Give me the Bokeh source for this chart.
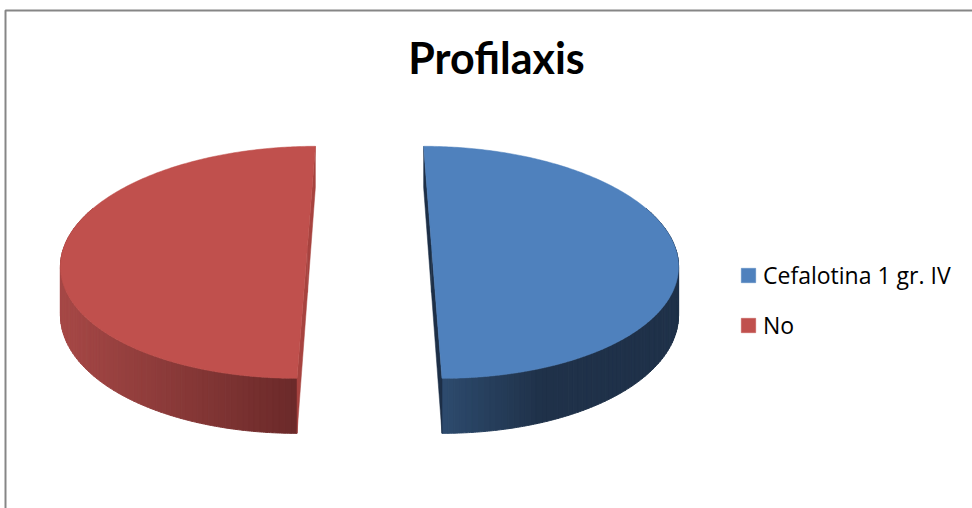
import numpy as np
from bokeh.plotting import figure
from bokeh.models import Range1d, Legend, LegendItem, BoxAnnotation, Label
from bokeh.embed import file_html
from bokeh.resources import INLINE

# ---- data -------------------------------------------------------------
title_text = "Profilaxis"
categories = ["Cefalotina 1 gr. IV", "No"]
values = [50, 50]

# ---- style ------------------------------------------------------------
top_colors = ["#4f81bd", "#c0504d"]
side_light = ["#2d4b6e", "#a64846"]
side_dark = ["#1f3149", "#6a2929"]
cut_colors = ["#1d2f47", "#a7433f"]
side_fade = [100.0, 240.0]          # px over which the side shading darkens

W, H = 972, 508
CX, CY = 369.0, 245.0                # centre of the pie's top face
RX, RY = 243.0, 113.6                # radii of the top face
PERSP = 0.145                        # perspective: near edge drawn larger
DEPTH = 47.0                         # thickness of the pie
EXPLODE = 0.255                      # slice offset, relative to the radius


def project(u, v, h):
    """Disc coords (u right, v far, h down 0..1) -> plot coords."""
    k = 1.0 / (1.0 + PERSP * v)
    return CX + RX * u * k, CY - RY * v * k + DEPTH * h * k


def mix(c1, c2, f):
    a = np.array([int(c1[i:i + 2], 16) for i in (1, 3, 5)], float)
    b = np.array([int(c2[i:i + 2], 16) for i in (1, 3, 5)], float)
    c = a + (b - a) * f
    return "#%02x%02x%02x" % tuple(int(round(x)) for x in c)


p = figure(width=W, height=H, output_backend="svg", toolbar_location=None,
           x_range=Range1d(0, W), y_range=Range1d(H, 0),
           x_axis_type=None, y_axis_type=None, min_border=0)
p.grid.visible = False
p.outline_line_color = None
p.background_fill_color = "white"

# chart-area frame
p.add_layout(BoxAnnotation(left=5, right=W + 50, top=10, bottom=H + 50,
                           fill_alpha=0, line_color="#868686", line_alpha=1.0,
                           line_width=2))

total = float(sum(values))
cum = np.concatenate([[0.0], np.cumsum(values)])
slices = []
for i in range(len(values)):
    a0 = 90.0 - 360.0 * cum[i] / total          # clockwise from 12 o'clock
    a1 = 90.0 - 360.0 * cum[i + 1] / total
    m = np.radians((a0 + a1) / 2.0)
    slices.append((a0, a1, EXPLODE * np.cos(m), EXPLODE * np.sin(m)))

# side walls (front half only), shaded in thin strips
for i, (a0, a1, ou, ov) in enumerate(slices):
    segs = []
    for shift in (-720, -360, 0, 360):
        lo, hi = max(a1, 160 + shift), min(a0, 380 + shift)
        if hi > lo:
            segs.append((lo, hi))
    strips_x, strips_y, strips_c = [], [], []
    for lo, hi in segs:
        edges = np.linspace(lo, hi, 90)
        xl = min(project(ou + np.cos(np.radians(t)), ov + np.sin(np.radians(t)), 0)[0]
                 for t in edges)
        for t0, t1 in zip(edges[:-1], edges[1:]):
            t = np.radians(np.linspace(t0, t1, 4))
            u, v = ou + np.cos(t), ov + np.sin(t)
            xt, yt = project(u, v, 0)
            xb, yb = project(u, v, 1)
            xs = np.concatenate([xt, xb[::-1]])
            ys = np.concatenate([yt, yb[::-1]])
            f = np.clip((xt.mean() - xl) / side_fade[i], 0, 1)
            strips_x.append(list(xs))
            strips_y.append(list(ys))
            strips_c.append(mix(side_light[i], side_dark[i], f))
    if strips_x:
        p.patches(strips_x, strips_y, fill_color=strips_c, line_color=strips_c,
                  line_width=1)

# cut faces along the slice radii
for i, (a0, a1, ou, ov) in enumerate(slices):
    for a in (a0, a1):
        t = np.radians(a)
        pts = [(ou, ov, 0), (ou + np.cos(t), ov + np.sin(t), 0),
               (ou + np.cos(t), ov + np.sin(t), 1), (ou, ov, 1)]
        xy = [project(*q) for q in pts]
        p.patch([q[0] for q in xy], [q[1] for q in xy], fill_color=cut_colors[i],
                line_color=cut_colors[i], line_width=0.5)

# top faces (these carry the legend)
items = []
for i, (a0, a1, ou, ov) in enumerate(slices):
    t = np.radians(np.linspace(a0, a1, 240))
    xs, ys = project(np.concatenate([[ou], ou + np.cos(t)]),
                     np.concatenate([[ov], ov + np.sin(t)]), 0)
    r = p.patch(list(xs), list(ys), fill_color=top_colors[i],
                line_color=top_colors[i], line_width=0.5)
    items.append(LegendItem(label=categories[i], renderers=[r]))

legend = Legend(items=items, location=(739, 167), orientation="vertical",
                glyph_width=18, glyph_height=18, label_standoff=6,
                label_text_font="Open Sans", label_text_font_size="23px",
                label_text_color="#000000", spacing=18, padding=0, margin=0,
                border_line_alpha=0, background_fill_alpha=0)
p.add_layout(legend)

p.add_layout(Label(x=496, y=57, text=title_text, text_align="center",
                   text_baseline="alphabetic", text_font="Lato",
                   text_font_style="bold", text_font_size="43px",
                   text_color="#000000"))

open("out.html", "w").write(file_html(p, INLINE))
